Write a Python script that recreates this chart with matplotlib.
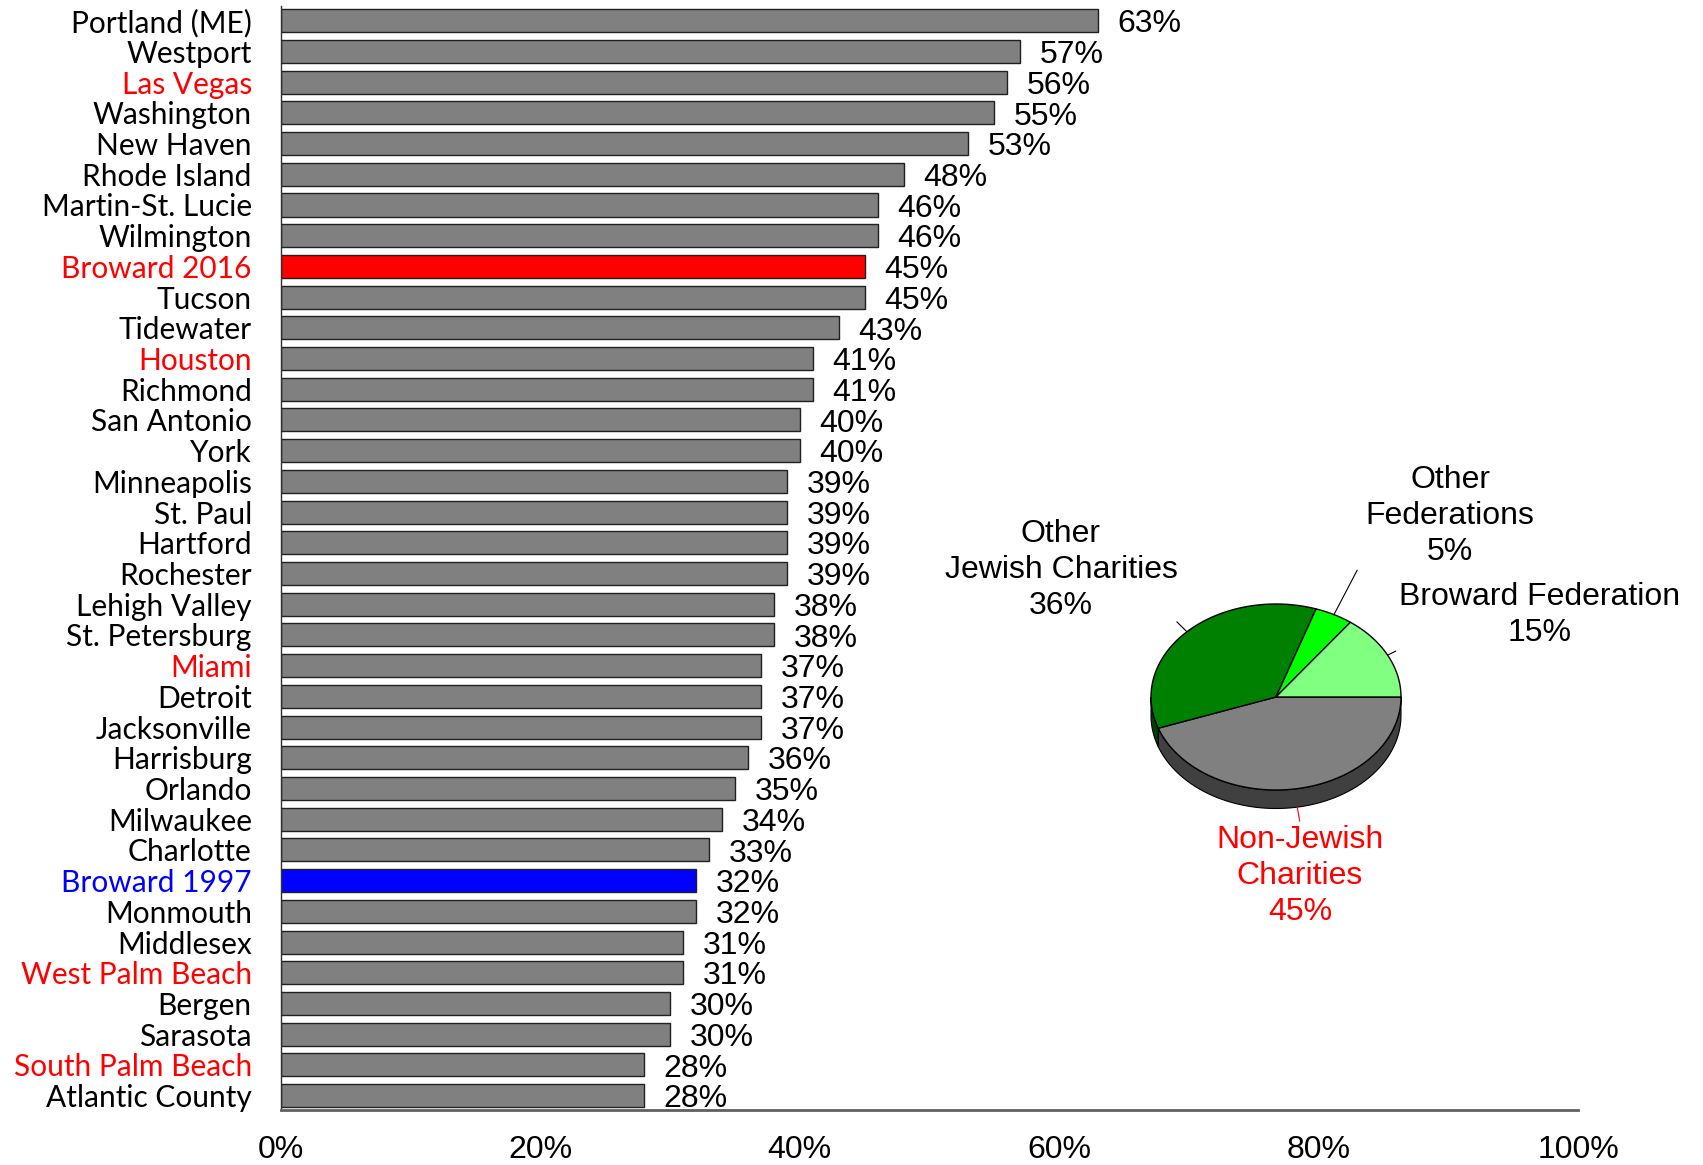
import matplotlib.pyplot as plt
import numpy as np

cities = ['Portland (ME)', 'Westport', 'Las Vegas', 'Washington', 'New Haven', 'Rhode Island',
          'Martin-St. Lucie', 'Wilmington', 'Broward 2016', 'Tucson', 'Tidewater', 'Houston',
          'Richmond', 'San Antonio', 'York', 'Minneapolis', 'St. Paul', 'Hartford', 'Rochester',
          'Lehigh Valley', 'St. Petersburg', 'Miami', 'Detroit', 'Jacksonville', 'Harrisburg',
          'Orlando', 'Milwaukee', 'Charlotte', 'Broward 1997', 'Monmouth', 'Middlesex',
          'West Palm Beach', 'Bergen', 'Sarasota', 'South Palm Beach', 'Atlantic County']
pct = [63, 57, 56, 55, 53, 48, 46, 46, 45, 45, 43, 41, 41, 40, 40, 39, 39, 39, 39, 38, 38,
       37, 37, 37, 36, 35, 34, 33, 32, 32, 31, 31, 30, 30, 28, 28]
red_cities = ['Las Vegas', 'Broward 2016', 'Houston', 'Miami', 'West Palm Beach', 'South Palm Beach']
blue_cities = ['Broward 1997']

pie_labels = ['Non-Jewish\nCharities\n45%', 'Other\nJewish Charities\n36%',
              'Other\nFederations\n5%', 'Broward Federation\n15%']
pie_vals = [45, 36, 5, 15]
pie_cols = ['#808080', '#008000', '#00ff00', '#80ff80']
side_cols = ['#404040', '#004000', '#008000', '#40a040']

W, H = 1703, 1165
fig = plt.figure(figsize=(W / 100, H / 100), dpi=100)
ax = fig.add_axes([281 / W, 1 - 1110 / H, (1578 - 281) / W, (1110 - 6) / H])

narrow = ['Liberation Sans Narrow', 'Liberation Sans']

y = np.arange(len(cities))
bar_cols = ['#ff0000' if c == 'Broward 2016' else '#0000ff' if c in blue_cities else '#808080'
            for c in cities]
ax.barh(y, pct, height=0.75, color=bar_cols, edgecolor='#202020', linewidth=1)
ax.set_ylim(len(cities) - 0.53, -0.48)
ax.set_xlim(0, 100)
ax.set_yticks(y)
ax.set_yticklabels(cities, fontsize=21.5, family=['Lato', 'DejaVu Sans'])
for lab, c in zip(ax.get_yticklabels(), cities):
    if c in red_cities:
        lab.set_color('#ff0000')
    elif c in blue_cities:
        lab.set_color('#0000ff')
ax.set_xticks(range(0, 101, 20))
ax.set_xticklabels([f'{v}%' for v in range(0, 101, 20)], fontsize=23, family=narrow)
ax.tick_params(axis='y', length=0, pad=21)
ax.tick_params(axis='x', length=0, pad=18)
for s in ['top', 'right']:
    ax.spines[s].set_visible(False)
ax.spines['left'].set_color('#303030')
ax.spines['left'].set_linewidth(1)
ax.spines['bottom'].set_color('#606060')
ax.spines['bottom'].set_linewidth(2)
for yi, v in zip(y, pct):
    ax.text(v + 1.5, yi + 0.12, f'{v}%', va='center', ha='left', fontsize=23, family=narrow)

# pseudo-3D pie in pixel coordinates
pax = fig.add_axes([0, 0, 1, 1])
pax.set_xlim(0, W)
pax.set_ylim(0, H)
pax.axis('off')
cx, cy, rx, ry, dep = 1276, H - 697, 125, 93, 18.5

fr = np.array(pie_vals) / sum(pie_vals)
ends = -np.cumsum(fr) * 360
starts = np.concatenate([[0], ends[:-1]])

# side band (visible lower half only)
for a0, a1, sc in zip(starts, ends, side_cols):
    lo, hi = max(min(a0, a1), -180), min(max(a0, a1), 0)
    if hi <= lo:
        continue
    t = np.radians(np.linspace(lo, hi, 80))
    xs = cx + rx * np.cos(t)
    ys = cy + ry * np.sin(t)
    px = np.concatenate([xs, xs[::-1]])
    py = np.concatenate([ys, ys[::-1] - dep])
    pax.fill(px, py, color=sc, ec='black', lw=0.8, zorder=1)

for a0, a1, c in zip(starts, ends, pie_cols):
    t = np.radians(np.linspace(a0, a1, 120))
    px = np.concatenate([[cx], cx + rx * np.cos(t), [cx]])
    py = np.concatenate([[cy], cy + ry * np.sin(t), [cy]])
    pax.fill(px, py, color=c, ec='black', lw=1, zorder=2)

# labels and leader lines
lab_pos = [(1300, H - 876), (1061, H - 570), (1450, H - 516), (1540, H - 615)]
lead_len = [14, 14, 50, 9]
for a0, a1, txt, (tx, ty), ll in zip(starts, ends, pie_labels, lab_pos, lead_len):
    m = np.radians((a0 + a1) / 2)
    x0 = cx + rx * np.cos(m)
    y0 = cy + ry * np.sin(m) - (dep if np.sin(m) < 0 else 0)
    x1 = x0 + ll * np.cos(m)
    y1 = y0 + ll * np.sin(m)
    col = '#ff0000' if txt.startswith('Non') else 'black'
    pax.plot([x0, x1], [y0, y1], color=col, lw=0.8, zorder=3)
    pax.text(tx, ty, txt, ha='center', va='center', fontsize=23, color=col,
             family=['Liberation Sans', 'DejaVu Sans'], linespacing=1.27)

fig.savefig('out.png', dpi=100)
